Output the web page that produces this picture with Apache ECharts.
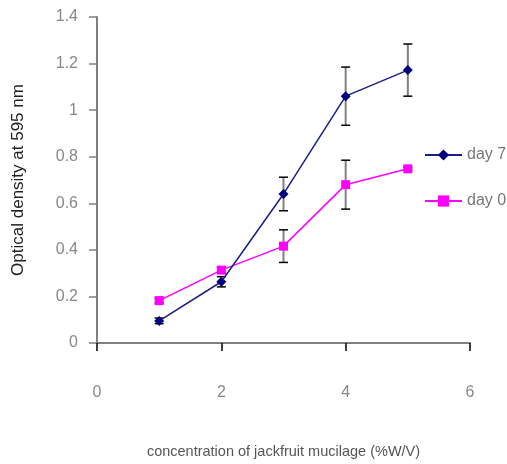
<!DOCTYPE html>
<html>
<head>
<meta charset="utf-8">
<script src="https://cdn.jsdelivr.net/npm/echarts@6/dist/echarts.min.js"></script>
<style>html,body{margin:0;padding:0;background:#fff;}#chart{width:507px;height:464px;}</style>
</head>
<body>
<div id="chart"></div>
<script>
var concentrations = [1, 2, 3, 4, 5];
var day7Values = [0.095, 0.263, 0.64, 1.06, 1.172];
var day7Errors = [0.012, 0.022, 0.072, 0.125, 0.112];
var day0Values = [0.182, 0.313, 0.416, 0.68, 0.748];
var day0Errors = [0.01, 0.012, 0.07, 0.105, 0.006];
var xTicks = [0, 2, 4, 6];
var yTicks = [0, 0.2, 0.4, 0.6, 0.8, 1, 1.2, 1.4];

function pairs(xs, ys) { return xs.map(function (x, i) { return [x, ys[i]]; }); }
function errData(xs, ys, es) { return xs.map(function (x, i) { return [x, ys[i] - es[i], ys[i] + es[i]]; }); }

function renderErr(params, api) {
  var x = api.value(0);
  var lo = api.coord([x, api.value(1)]);
  var hi = api.coord([x, api.value(2)]);
  var hw = 4.5;
  return {
    type: 'group',
    children: [
      { type: 'line', shape: { x1: lo[0], y1: lo[1], x2: hi[0], y2: hi[1] }, style: { stroke: '#808080', lineWidth: 2 } },
      { type: 'line', shape: { x1: lo[0] - hw, y1: lo[1], x2: lo[0] + hw, y2: lo[1] }, style: { stroke: '#000', lineWidth: 1.5 } },
      { type: 'line', shape: { x1: hi[0] - hw, y1: hi[1], x2: hi[0] + hw, y2: hi[1] }, style: { stroke: '#000', lineWidth: 1.5 } }
    ]
  };
}

var FONT = 'Liberation Sans, Arial, sans-serif';
var chart = echarts.init(document.getElementById('chart'), null, { renderer: 'canvas' });
chart.setOption({
  animation: false,
  backgroundColor: '#fff',
  textStyle: { fontFamily: FONT },
  grid: { left: 97, right: 37, top: 17, bottom: 119, containLabel: false },
  legend: {
    orient: 'vertical',
    left: 419,
    top: 142,
    itemWidth: 37,
    itemHeight: 14,
    itemGap: 30,
    data: ['day 7', 'day 0'],
    textStyle: { color: '#777', fontSize: 16, fontFamily: FONT }
  },
  xAxis: {
    type: 'value',
    min: 0, max: 6, interval: 2,
    name: 'concentration of jackfruit mucilage (%W/V)',
    nameLocation: 'middle',
    nameGap: 101,
    nameTextStyle: { color: '#555', fontSize: 14.5, fontFamily: FONT },
    axisLine: { show: true, lineStyle: { color: '#808080', width: 2 } },
    axisTick: { show: true, length: 8, inside: false, lineStyle: { color: '#000', width: 1.5 } },
    axisLabel: { margin: 42, color: '#888', fontSize: 16, fontFamily: FONT, formatter: function (v) { return xTicks.indexOf(v) >= 0 ? String(v) : ''; } },
    splitLine: { show: false }
  },
  yAxis: {
    type: 'value',
    min: 0, max: 1.4, interval: 0.2,
    name: 'Optical density at 595 nm',
    nameLocation: 'middle',
    nameGap: 70,
    nameRotate: 90,
    nameTextStyle: { color: '#222', fontSize: 17, fontFamily: FONT },
    axisLine: { show: true, lineStyle: { color: '#808080', width: 2 } },
    axisTick: { show: true, length: 8, lineStyle: { color: '#808080', width: 1.5 } },
    axisLabel: { margin: 19, color: '#888', fontSize: 16, fontFamily: FONT, formatter: function (v) {
      var r = Math.round(v * 10) / 10;
      return yTicks.indexOf(r) >= 0 ? String(r) : '';
    } },
    splitLine: { show: false }
  },
  series: [
    { type: 'custom', name: 'err7', renderItem: renderErr, data: errData(concentrations, day7Values, day7Errors), z: 1, silent: true },
    { type: 'custom', name: 'err0', renderItem: renderErr, data: errData(concentrations, day0Values, day0Errors), z: 1, silent: true },
    { type: 'line', name: 'day 7', data: pairs(concentrations, day7Values), symbol: 'diamond', symbolSize: 10,
      itemStyle: { color: '#000080' }, lineStyle: { color: '#1c1c8a', width: 1.5 }, z: 3 },
    { type: 'line', name: 'day 0', data: pairs(concentrations, day0Values), symbol: 'rect', symbolSize: 9,
      itemStyle: { color: '#ff00ff' }, lineStyle: { color: '#ff00ff', width: 1.5 }, z: 2 }
  ]
});
</script>
</body>
</html>
